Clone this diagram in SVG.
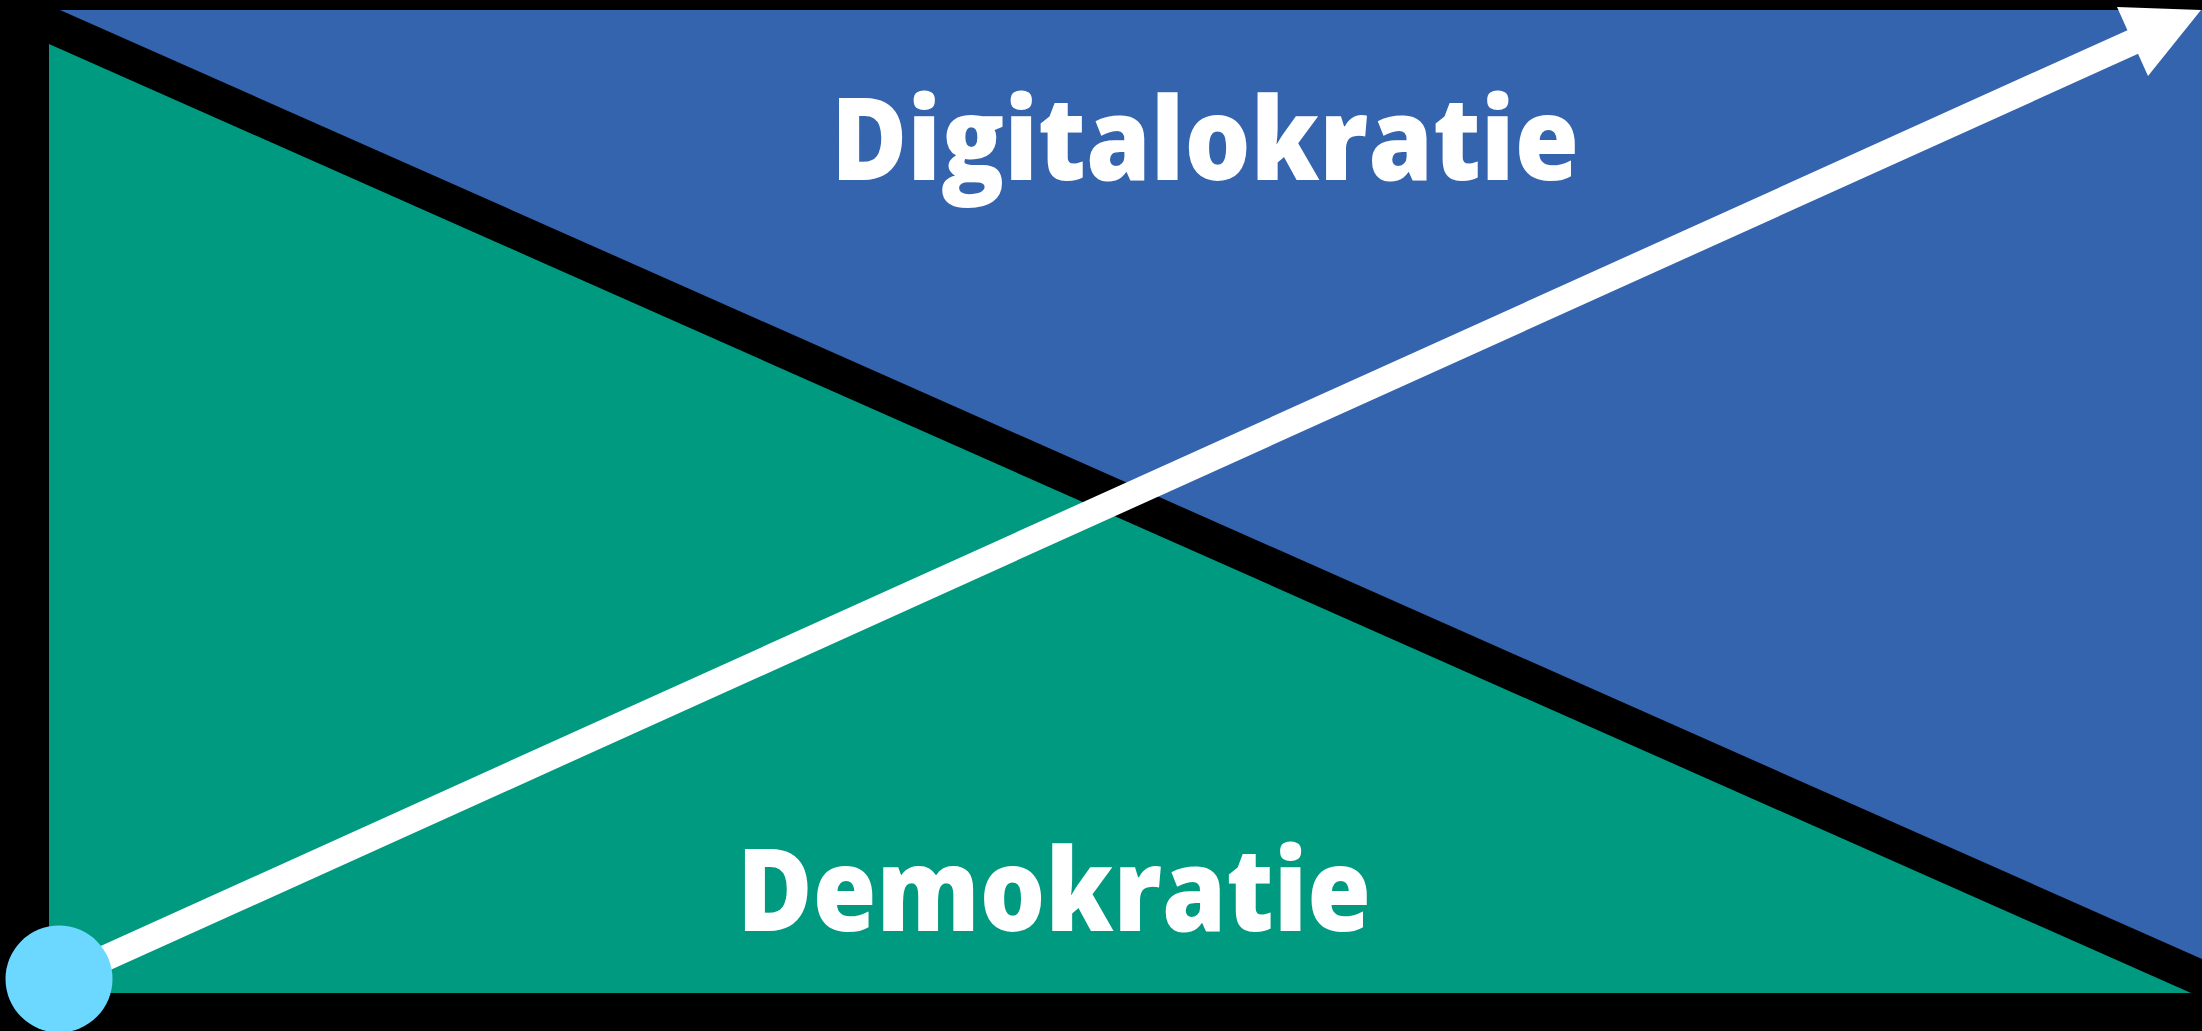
<svg xmlns="http://www.w3.org/2000/svg" width="2202" height="1031" viewBox="0 0 2202 1031">
<style>
.lbl{font-family:"Open Sans","Liberation Sans",sans-serif;font-weight:800;font-size:116px;fill:#ffffff}
</style>
<rect x="0" y="0" width="2202" height="1031" fill="#000000"/>
<g id="digitalokratie">
<polygon points="60,10 2202,10 2202,959" fill="#3564ae"/>
<text class="lbl" x="831" y="180" textLength="748" lengthAdjust="spacingAndGlyphs">Digitalokratie</text>
</g>
<g id="demokratie">
<polygon points="49,44 49,993 2191,993" fill="#009a80"/>
<text class="lbl" x="737" y="931" textLength="634" lengthAdjust="spacingAndGlyphs">Demokratie</text>
</g>
<g id="connectors">
<line x1="59" y1="979" x2="2135" y2="41" stroke="#ffffff" stroke-width="26"/>
<polygon points="2201,10 2117,7 2148,76" fill="#ffffff"/>
</g>
<g id="start">
<circle cx="59" cy="979" r="53.5" fill="#6dd8ff"/>
</g>
</svg>
